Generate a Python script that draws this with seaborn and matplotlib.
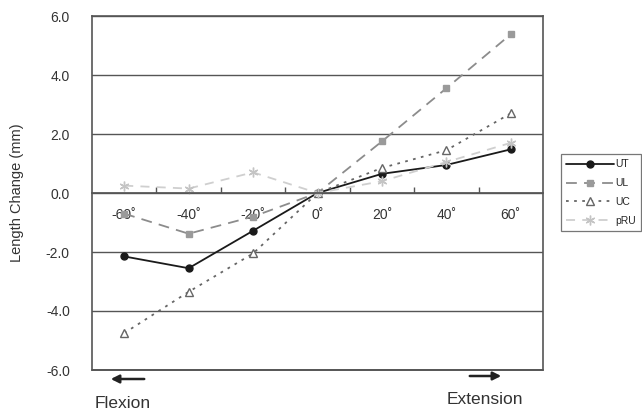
import numpy as np
import pandas as pd
import seaborn as sns
import matplotlib.pyplot as plt
from matplotlib.patches import FancyArrowPatch

# angle categories (deg) and length change (mm) per ligament
angles = ["-60", "-40", "-20", "0", "20", "40", "60"]
ut = [-2.15, -2.55, -1.28, 0.0, 0.65, 0.95, 1.48]
ul = [-0.7, -1.38, -0.8, 0.0, 1.75, 3.55, 5.38]
uc = [-4.75, -3.35, -2.05, 0.0, 0.85, 1.45, 2.7]
pru = [0.25, 0.15, 0.7, 0.0, 0.4, 1.05, 1.7]
series_names = ["UT", "UL", "UC", "pRU"]
y_ticks = [-6.0, -4.0, -2.0, 0.0, 2.0, 4.0, 6.0]

sns.set_theme(style="white")
plt.rcParams['font.family'] = ['Liberation Sans', 'DejaVu Sans']

# long-form table for seaborn
pos = np.arange(len(angles))
df = pd.DataFrame({
    "pos": np.tile(pos, 4),
    "val": ut + ul + uc + pru,
    "name": np.repeat(series_names, len(angles)),
})

styles = {
    "UT": dict(color="#1a1a1a", linestyle="-", marker="o", mfc="#1a1a1a", mec="#1a1a1a", ms=5),
    "UL": dict(color="#8c8c8c", linestyle=(0, (6, 4)), marker="s", mfc="#9a9a9a", mec="#9a9a9a", ms=5),
    "UC": dict(color="#666666", linestyle=(0, (1.5, 3)), marker="^", mfc="white", mec="#666666", ms=6),
    "pRU": dict(color="#cfcfcf", linestyle=(0, (5, 4)), marker=(6, 2, 0), mfc="#c4c4c4", mec="#c4c4c4", ms=7),
}

fig = plt.figure(figsize=(6.42, 4.12), dpi=100)
ax = fig.add_axes([92/642, 1-370/412, (543-92)/642, (370-16)/412])

for name in series_names:
    st = styles[name]
    sns.lineplot(data=df[df["name"] == name], x="pos", y="val", ax=ax,
                 color=st["color"], linestyle=st["linestyle"], linewidth=1.3,
                 marker=st["marker"], markersize=st["ms"],
                 markerfacecolor=st["mfc"], markeredgecolor=st["mec"],
                 markeredgewidth=1.0, label=name, errorbar=None)

ax.set_xlim(-0.5, len(angles) - 0.5)
ax.set_ylim(-6, 6)
ax.set_yticks(y_ticks)
ax.set_yticklabels([f"{v:.1f}" for v in y_ticks], fontsize=10, color="#333333")
ax.yaxis.grid(True, color="#555555", linewidth=1.0)
ax.set_axisbelow(True)

# x axis sits on the zero line, Excel style ticks between categories
ax.spines['bottom'].set_position(('data', 0))
ax.spines['bottom'].set_color("#555555")
ax.set_xticks(pos)
ax.set_xticklabels([a + "˚" for a in angles], fontsize=10, color="#333333")
ax.set_xticks(pos[:-1] + 0.5, minor=True)
ax.tick_params(axis='x', which='major', length=0, pad=11)
ax.tick_params(axis='x', which='minor', direction='in', length=4, color="#555555", bottom=True)
ax.tick_params(axis='y', length=0, pad=16)
for s in ['top', 'left', 'right']:
    ax.spines[s].set_color("#555555")
    ax.spines[s].set_linewidth(1.2)
ax.axhline(-6, color="#555555", linewidth=1.4, clip_on=False)

ax.set_xlabel("")
ax.set_ylabel("Length Change (mm)", fontsize=10.5, color="#333333", labelpad=16)

leg = ax.legend(loc="upper left", bbox_to_anchor=(556/642, 1-149/412),
                bbox_transform=fig.transFigure, fontsize=7.5, handlelength=4.6,
                handletextpad=0.1, borderpad=0.5, labelspacing=0.85,
                frameon=True, fancybox=False, edgecolor="#555555")
leg.get_frame().set_linewidth(0.9)

# direction labels
fig.text(95/642, 1-403/412, "Flexion", fontsize=12.5, color="#333333", va="center")
fig.text(485/642, 1-400/412, "Extension", fontsize=12.5, color="#333333", va="center", ha="center")
fig.add_artist(FancyArrowPatch(
    (147/642, 1-379/412), (108/642, 1-379/412), transform=fig.transFigure,
    arrowstyle="-|>", mutation_scale=12, color="#222222", linewidth=1.8))
fig.add_artist(FancyArrowPatch(
    (467/642, 1-376/412), (504/642, 1-376/412), transform=fig.transFigure,
    arrowstyle="-|>", mutation_scale=12, color="#222222", linewidth=1.8))

fig.savefig("out.png", dpi=100)
